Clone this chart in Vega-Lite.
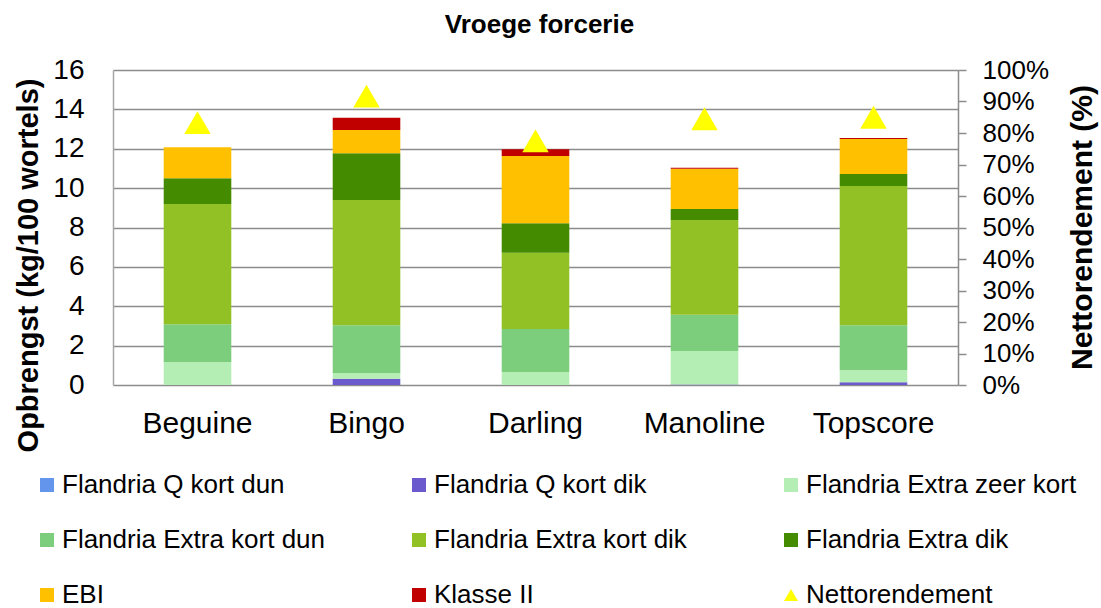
{
  "$schema": "https://vega.github.io/schema/vega-lite/v6.json",
  "autosize": "none",
  "width": 845,
  "height": 315,
  "padding": {"left": 113, "top": 70, "right": 143, "bottom": 223},
  "background": "white",
  "config": {
    "font": "Liberation Sans",
    "view": {"stroke": null},
    "axis": {"labelColor": "black", "titleColor": "black", "labelFont": "Liberation Sans", "titleFont": "Liberation Sans"}
  },
  "title": {"text": "Vroege forcerie", "fontSize": 26, "fontWeight": "bold", "font": "Liberation Sans", "color": "black", "anchor": "middle", "offset": 18, "dx": 4},
  "datasets": {
    "bars": [
      {"ras": "Beguine", "reeks": "Flandria Extra zeer kort", "k": 3, "opbrengst": 1.17},
      {"ras": "Beguine", "reeks": "Flandria Extra kort dun", "k": 4, "opbrengst": 1.91},
      {"ras": "Beguine", "reeks": "Flandria Extra kort dik", "k": 5, "opbrengst": 6.11},
      {"ras": "Beguine", "reeks": "Flandria Extra dik", "k": 6, "opbrengst": 1.31},
      {"ras": "Beguine", "reeks": "EBI", "k": 7, "opbrengst": 1.57},
      {"ras": "Bingo", "reeks": "Flandria Q kort dik", "k": 2, "opbrengst": 0.32},
      {"ras": "Bingo", "reeks": "Flandria Extra zeer kort", "k": 3, "opbrengst": 0.29},
      {"ras": "Bingo", "reeks": "Flandria Extra kort dun", "k": 4, "opbrengst": 2.42},
      {"ras": "Bingo", "reeks": "Flandria Extra kort dik", "k": 5, "opbrengst": 6.37},
      {"ras": "Bingo", "reeks": "Flandria Extra dik", "k": 6, "opbrengst": 2.37},
      {"ras": "Bingo", "reeks": "EBI", "k": 7, "opbrengst": 1.18},
      {"ras": "Bingo", "reeks": "Klasse II", "k": 8, "opbrengst": 0.63},
      {"ras": "Darling", "reeks": "Flandria Extra zeer kort", "k": 3, "opbrengst": 0.66},
      {"ras": "Darling", "reeks": "Flandria Extra kort dun", "k": 4, "opbrengst": 2.18},
      {"ras": "Darling", "reeks": "Flandria Extra kort dik", "k": 5, "opbrengst": 3.88},
      {"ras": "Darling", "reeks": "Flandria Extra dik", "k": 6, "opbrengst": 1.49},
      {"ras": "Darling", "reeks": "EBI", "k": 7, "opbrengst": 3.42},
      {"ras": "Darling", "reeks": "Klasse II", "k": 8, "opbrengst": 0.34},
      {"ras": "Manoline", "reeks": "Flandria Q kort dik", "k": 2, "opbrengst": 0.02},
      {"ras": "Manoline", "reeks": "Flandria Extra zeer kort", "k": 3, "opbrengst": 1.71},
      {"ras": "Manoline", "reeks": "Flandria Extra kort dun", "k": 4, "opbrengst": 1.84},
      {"ras": "Manoline", "reeks": "Flandria Extra kort dik", "k": 5, "opbrengst": 4.81},
      {"ras": "Manoline", "reeks": "Flandria Extra dik", "k": 6, "opbrengst": 0.56},
      {"ras": "Manoline", "reeks": "EBI", "k": 7, "opbrengst": 2.05},
      {"ras": "Manoline", "reeks": "Klasse II", "k": 8, "opbrengst": 0.05},
      {"ras": "Topscore", "reeks": "Flandria Q kort dik", "k": 2, "opbrengst": 0.14},
      {"ras": "Topscore", "reeks": "Flandria Extra zeer kort", "k": 3, "opbrengst": 0.62},
      {"ras": "Topscore", "reeks": "Flandria Extra kort dun", "k": 4, "opbrengst": 2.27},
      {"ras": "Topscore", "reeks": "Flandria Extra kort dik", "k": 5, "opbrengst": 7.08},
      {"ras": "Topscore", "reeks": "Flandria Extra dik", "k": 6, "opbrengst": 0.61},
      {"ras": "Topscore", "reeks": "EBI", "k": 7, "opbrengst": 1.77},
      {"ras": "Topscore", "reeks": "Klasse II", "k": 8, "opbrengst": 0.05}
    ],
    "netto": [
      {"ras": "Beguine", "reeks": "Nettorendement", "pct": 0.833},
      {"ras": "Bingo", "reeks": "Nettorendement", "pct": 0.917},
      {"ras": "Darling", "reeks": "Nettorendement", "pct": 0.775},
      {"ras": "Manoline", "reeks": "Nettorendement", "pct": 0.845},
      {"ras": "Topscore", "reeks": "Nettorendement", "pct": 0.85}
    ]
  },
  "layer": [
    {
      "data": {"name": "bars"},
      "mark": {"type": "bar"},
      "encoding": {
        "x": {
          "field": "ras", "type": "nominal", "sort": null,
          "scale": {"paddingInner": 0.6, "paddingOuter": 0.3},
          "axis": {"title": null, "labelAngle": 0, "labelFontSize": 30, "ticks": false, "domain": false, "labelPadding": 23}
        },
        "y": {
          "field": "opbrengst", "type": "quantitative", "stack": "zero",
          "scale": {"domain": [0, 16], "nice": false},
          "axis": {
            "title": "Opbrengst (kg/100 wortels)", "titleFontSize": 29, "titleFontWeight": "bold",
            "titleAngle": 270, "titleX": -85, "titleY": 195, "titleAlign": "center", "titleBaseline": "middle",
            "values": [0, 2, 4, 6, 8, 10, 12, 14, 16], "labelFontSize": 28, "labelPadding": 29,
            "ticks": false, "grid": true, "gridColor": "#8c8c8c", "gridWidth": 1.5,
            "domain": true, "domainColor": "#a6a6a6", "domainWidth": 1.5
          }
        },
        "color": {
          "field": "reeks", "type": "nominal",
          "scale": {
            "domain": ["Flandria Q kort dun", "Flandria Q kort dik", "Flandria Extra zeer kort", "Flandria Extra kort dun", "Flandria Extra kort dik", "Flandria Extra dik", "EBI", "Klasse II", "Nettorendement"],
            "range": ["#6495ED", "#6A5ACD", "#B4EEB4", "#7CCD7C", "#92C125", "#458B00", "#FFC000", "#C00000", "#FFFF00"]
          },
          "legend": {
            "title": null, "orient": "none", "direction": "horizontal", "legendX": -79, "legendY": 402, "columns": 3,
            "gridAlign": "all", "columnPadding": 73, "rowPadding": 29, "labelFontSize": 26,
            "labelFont": "Liberation Sans", "labelColor": "black", "symbolSize": 196, "labelOffset": 2,
            "symbolStrokeWidth": 0, "labelLimit": 400
          }
        },
        "order": {"field": "k", "type": "quantitative"}
      }
    },
    {
      "data": {"name": "netto"},
      "mark": {"type": "point", "filled": true, "opacity": 1, "size": 700, "strokeWidth": 0},
      "encoding": {
        "x": {"field": "ras", "type": "nominal", "sort": null},
        "y": {
          "field": "pct", "type": "quantitative",
          "scale": {"domain": [0, 1], "nice": false},
          "axis": {
            "orient": "right", "format": ".0%", "values": [0, 0.1, 0.2, 0.3, 0.4, 0.5, 0.6, 0.7, 0.8, 0.9, 1],
            "labelFontSize": 26, "labelPadding": 16, "ticks": true, "tickSize": 8, "tickColor": "#8c8c8c", "tickWidth": 1.5,
            "grid": false, "domain": true, "domainColor": "#8c8c8c", "domainWidth": 1.5,
            "title": "Nettorendement (%)", "titleFontSize": 30, "titleFontWeight": "bold",
            "titleAngle": 270, "titleX": 124, "titleY": 157, "titleAlign": "center", "titleBaseline": "middle"
          }
        },
        "color": {
          "field": "reeks", "type": "nominal",
          "scale": {
            "domain": ["Flandria Q kort dun", "Flandria Q kort dik", "Flandria Extra zeer kort", "Flandria Extra kort dun", "Flandria Extra kort dik", "Flandria Extra dik", "EBI", "Klasse II", "Nettorendement"],
            "range": ["#6495ED", "#6A5ACD", "#B4EEB4", "#7CCD7C", "#92C125", "#458B00", "#FFC000", "#C00000", "#FFFF00"]
          },
          "legend": {
            "title": null, "orient": "none", "direction": "horizontal", "legendX": -79, "legendY": 402, "columns": 3,
            "gridAlign": "all", "columnPadding": 73, "rowPadding": 29, "labelFontSize": 26,
            "labelFont": "Liberation Sans", "labelColor": "black", "symbolSize": 196, "labelOffset": 2,
            "symbolStrokeWidth": 0, "labelLimit": 400
          }
        },
        "shape": {
          "field": "reeks", "type": "nominal",
          "scale": {
            "domain": ["Flandria Q kort dun", "Flandria Q kort dik", "Flandria Extra zeer kort", "Flandria Extra kort dun", "Flandria Extra kort dik", "Flandria Extra dik", "EBI", "Klasse II", "Nettorendement"],
            "range": ["square", "square", "square", "square", "square", "square", "square", "square", "triangle-up"]
          },
          "legend": {
            "title": null, "orient": "none", "direction": "horizontal", "legendX": -79, "legendY": 402, "columns": 3,
            "gridAlign": "all", "columnPadding": 73, "rowPadding": 29, "labelFontSize": 26,
            "labelFont": "Liberation Sans", "labelColor": "black", "symbolSize": 196, "labelOffset": 2,
            "symbolStrokeWidth": 0, "labelLimit": 400
          }
        }
      }
    }
  ],
  "resolve": {"scale": {"y": "independent"}}
}
